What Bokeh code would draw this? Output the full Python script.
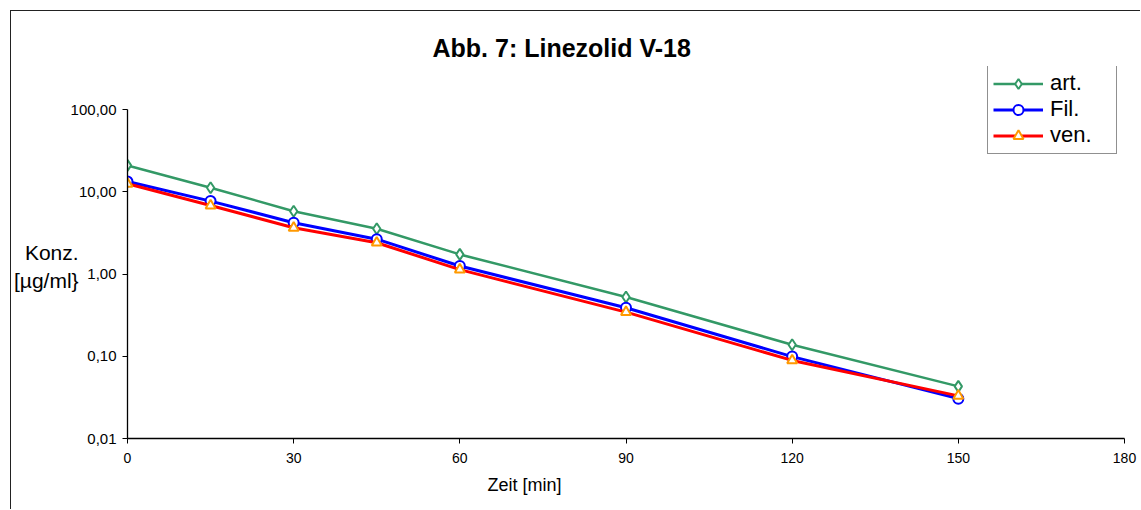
from bokeh.plotting import figure
from bokeh.models import (FixedTicker, Legend, LegendItem, Range1d, Title)
from bokeh.embed import file_html
from bokeh.resources import INLINE

# ---- data ----
zeit = [0, 15, 30, 45, 60, 90, 120, 150]
art = [20.9, 11.2, 5.8, 3.55, 1.73, 0.525, 0.138, 0.043]
fil = [13.3, 7.7, 4.2, 2.65, 1.25, 0.389, 0.099, 0.0305]
ven = [12.5, 6.8, 3.65, 2.40, 1.13, 0.344, 0.089, 0.033]

x_ticks = [0, 30, 60, 90, 120, 150, 180]
y_ticks = [0.01, 0.1, 1, 10, 100]
y_tick_labels = ["0,01", "0,10", "1,00", "10,00", "100,00"]

title_text = "Abb. 7: Linezolid V-18"
x_title = "Zeit [min]"
y_title = " \nKonz.\n[µg/ml}"
series_names = ["art.", "Fil.", "ven."]

FONT = "Liberation Sans"

# layout: axis spans 0.01..100 over 329 px; frame extends 43 px above 100
PX_PER_DECADE = 329 / 4.0
EXTRA_TOP_PX = 43
y_top = 100 * 10 ** (EXTRA_TOP_PX / PX_PER_DECADE)

p = figure(width=1130, height=499, output_backend="svg", toolbar_location=None,
           y_axis_type="log", x_range=Range1d(0, 180),
           y_range=Range1d(0.01, y_top),
           min_border_left=116, min_border_right=17, min_border_top=55,
           min_border_bottom=72, background_fill_color="white",
           border_fill_color="white", outline_line_color=None)
p.styles = {"margin-left": "10px", "margin-top": "10px",
            "border-top": "1.5px solid #222", "border-left": "1.5px solid #222"}

p.title.text = title_text
p.title.align = "left"
p.title.offset = 305
p.title.standoff = 9
p.title.text_font = FONT
p.title.text_font_size = "25px"
p.title.text_font_style = "bold"
p.title.text_color = "black"

p.xgrid.grid_line_color = None
p.ygrid.grid_line_color = None

xa = p.xaxis[0]
xa.ticker = FixedTicker(ticks=x_ticks)
xa.bounds = (0, 180)
xa.minor_tick_line_color = None
xa.major_tick_in = 0
xa.major_tick_out = 5
xa.major_label_standoff = 9
xa.major_label_text_font = FONT
xa.major_label_text_font_size = "14px"
xa.major_label_text_color = "black"
xa.axis_line_color = "black"
xa.axis_line_width = 1.3
xa.major_tick_line_color = "black"

ya = p.yaxis[0]
ya.ticker = FixedTicker(ticks=y_ticks)
ya.bounds = (0.01, 100)
ya.major_label_overrides = {t: l for t, l in zip(y_ticks, y_tick_labels)}
ya.minor_tick_line_color = None
ya.major_tick_in = 0
ya.major_tick_out = 5
ya.major_label_standoff = 6
ya.major_label_text_font = FONT
ya.major_label_text_font_size = "15px"
ya.major_label_text_color = "black"
ya.axis_line_color = "black"
ya.axis_line_width = 1.3
ya.major_tick_line_color = "black"
ya.axis_label = y_title
ya.axis_label_orientation = "horizontal"
ya.axis_label_standoff = -11
ya.axis_label_text_font = FONT
ya.axis_label_text_font_size = "21px"
ya.axis_label_text_font_style = "normal"
ya.axis_label_text_color = "black"

p.add_layout(Title(text=x_title, align="left", offset=360, standoff=14,
                   text_font=FONT, text_font_size="18px",
                   text_font_style="normal", text_color="black"), "below")

styles = [
    ("#339966", 2.5, "diamond", 11, art),
    ("#0000FF", 3, "circle", 10, fil),
    ("#FF0000", 3, "triangle", 10, ven),
]
marker_colors = ["#339966", "#0000FF", "#FF9900"]

items = []
for (col, lw, mk, ms, ys), mcol, name in zip(styles, marker_colors, series_names):
    r1 = p.line(zeit, ys, line_color=col, line_width=lw)
    r2 = p.scatter(zeit, ys, marker=mk, size=ms, line_color=mcol,
                   line_width=2, fill_color="white")
    items.append(LegendItem(label=name, renderers=[r1, r2]))

legend = Legend(items=items, location=(860, 284), padding=5, spacing=0,
                glyph_width=50, glyph_height=25, label_height=25,
                label_width=61, label_standoff=7, margin=0,
                label_text_font=FONT, label_text_font_size="22px",
                label_text_color="black", border_line_color="#222",
                border_line_width=1.2, background_fill_color="white",
                background_fill_alpha=1.0)
p.add_layout(legend, "center")

open("out.html", "w").write(file_html(p, INLINE))
